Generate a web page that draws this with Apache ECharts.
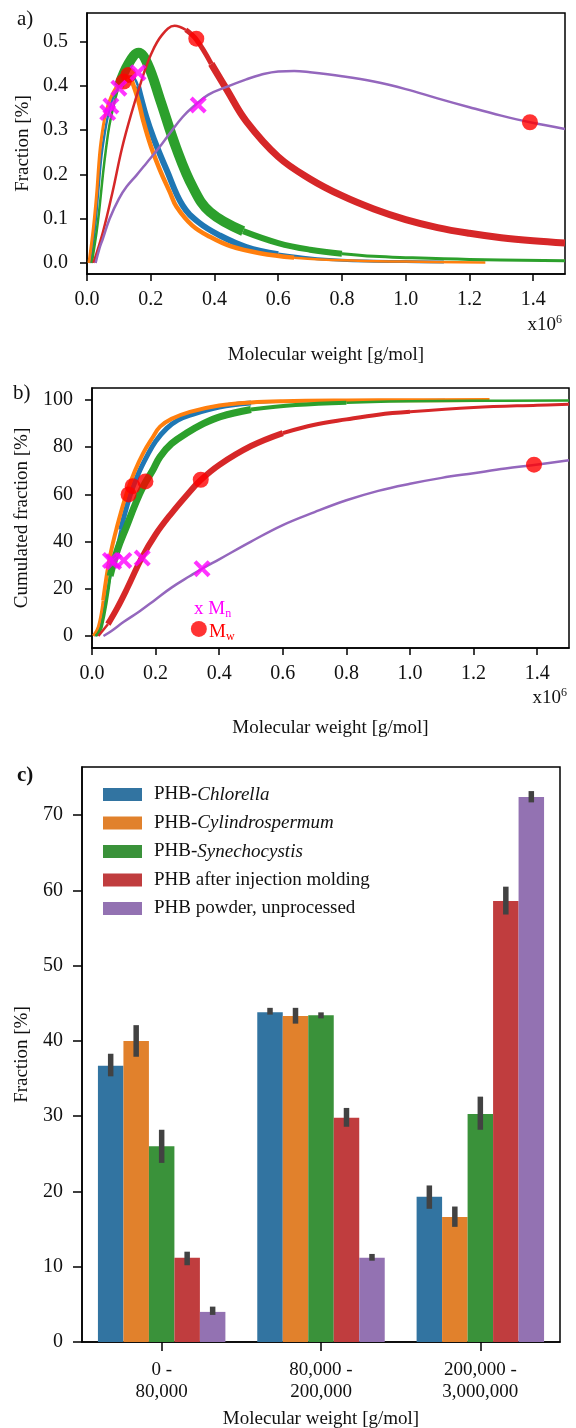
<!DOCTYPE html>
<html>
<head>
<meta charset="utf-8">
<script src="https://cdn.jsdelivr.net/npm/echarts@6/dist/echarts.min.js"></script>
<style>
html,body{margin:0;padding:0;background:#fff;}
#main{width:576px;height:1428px;}
</style>
</head>
<body>
<div id="main"></div>
<script>
// x values in 10^6 g/mol, panel a in fraction [%], panel b in cumulated fraction [%]
var xTicksAB = [0, 0.2, 0.4, 0.6, 0.8, 1.0, 1.2, 1.4];
var yTicksA = [0, 0.1, 0.2, 0.3, 0.4, 0.5];
var yTicksB = [0, 20, 40, 60, 80, 100];
var yTicksC = [0, 10, 20, 30, 40, 50, 60, 70];

var chlorellaA = [[0.01,0],[0.025,0.08],[0.035,0.16],[0.045,0.24],[0.055,0.29],[0.065,0.33],[0.08,0.37],[0.1,0.4],[0.12,0.418],[0.14,0.422],[0.16,0.4],[0.186,0.33],[0.21,0.28],[0.25,0.21],[0.3,0.13],[0.35,0.092],[0.417,0.062],[0.5,0.036],[0.6,0.02],[0.7,0.011],[0.8,0.006],[0.9,0.004],[1.0,0.003],[1.12,0.002]];
var cylindroA = [[0.006,0],[0.02,0.08],[0.03,0.155],[0.04,0.25],[0.05,0.305],[0.061,0.346],[0.075,0.375],[0.092,0.398],[0.11,0.415],[0.125,0.421],[0.14,0.413],[0.16,0.37],[0.176,0.323],[0.2,0.265],[0.229,0.21],[0.26,0.16],[0.281,0.127],[0.33,0.085],[0.386,0.059],[0.45,0.038],[0.543,0.022],[0.65,0.012],[0.8,0.006],[1.0,0.003],[1.25,0.001]];
var synechoA = [[0.015,0],[0.03,0.07],[0.04,0.13],[0.05,0.2],[0.06,0.26],[0.07,0.31],[0.085,0.36],[0.1,0.4],[0.13,0.45],[0.162,0.475],[0.19,0.45],[0.229,0.37],[0.28,0.26],[0.333,0.17],[0.386,0.115],[0.49,0.072],[0.6,0.045],[0.7,0.03],[0.8,0.021],[0.9,0.015],[1.0,0.012],[1.2,0.008],[1.5,0.005]];
var moldedA = [[0.02,0],[0.05,0.07],[0.08,0.16],[0.11,0.26],[0.14,0.34],[0.17,0.41],[0.2,0.47],[0.235,0.515],[0.275,0.536],[0.31,0.527],[0.343,0.505],[0.39,0.45],[0.44,0.39],[0.5,0.32],[0.6,0.24],[0.7,0.19],[0.8,0.152],[0.9,0.122],[1.0,0.098],[1.1,0.08],[1.2,0.067],[1.3,0.057],[1.4,0.05],[1.5,0.045]];
var powderA = [[0.027,0],[0.04,0.035],[0.05,0.055],[0.071,0.1],[0.1,0.145],[0.124,0.172],[0.155,0.198],[0.187,0.226],[0.229,0.263],[0.26,0.293],[0.3,0.33],[0.333,0.353],[0.38,0.38],[0.438,0.398],[0.5,0.415],[0.543,0.425],[0.6,0.433],[0.65,0.434],[0.7,0.431],[0.8,0.422],[0.9,0.41],[1.0,0.393],[1.1,0.372],[1.2,0.352],[1.3,0.333],[1.39,0.318],[1.5,0.303]];
var mnA = [[0.065,0.34],[0.075,0.355],[0.1,0.395],[0.16,0.43],[0.349,0.357]];
var mwA = [[0.115,0.41],[0.13,0.425],[0.343,0.507],[1.39,0.318]];

var chlorellaB = [[0.008,0],[0.025,4],[0.04,14],[0.067,31],[0.09,45],[0.119,59.2],[0.145,68.5],[0.172,76],[0.2,82.5],[0.235,88],[0.27,91.5],[0.308,93.6],[0.4,97],[0.5,98.7],[0.6,99.4],[0.8,99.8],[1.0,99.9],[1.11,100]];
var cylindroB = [[0.004,0],[0.02,4],[0.035,15],[0.057,33.9],[0.08,47],[0.109,60.6],[0.135,70],[0.161,77.5],[0.19,84],[0.214,88.7],[0.25,92],[0.308,95],[0.4,97.7],[0.5,99],[0.6,99.5],[0.8,99.8],[1.0,99.9],[1.25,100]];
var synechoB = [[0.012,0],[0.03,4],[0.057,25.4],[0.08,36.5],[0.109,46.5],[0.135,55.5],[0.161,63.4],[0.19,70],[0.214,76],[0.25,81.5],[0.298,86],[0.35,90],[0.404,93],[0.5,96],[0.64,97.9],[0.8,98.9],[1.0,99.5],[1.2,99.7],[1.5,99.8]];
var moldedB = [[0.02,0],[0.05,5],[0.08,12],[0.11,20],[0.156,33],[0.2,43],[0.25,52],[0.3,60],[0.341,66],[0.4,72.5],[0.5,80.5],[0.6,86],[0.7,89.5],[0.8,91.8],[0.9,93.8],[1.0,95],[1.2,96.8],[1.4,97.8],[1.5,98.2]];
var powderB = [[0.036,0],[0.06,2],[0.1,6],[0.15,10.5],[0.2,15.5],[0.25,20.5],[0.308,25.4],[0.346,28.5],[0.4,32.5],[0.5,40],[0.6,47],[0.7,52.5],[0.8,57.5],[0.9,61.5],[1.0,64.5],[1.1,67],[1.2,69],[1.3,71],[1.39,72.5],[1.5,74.5]];
var mnB = [[0.058,32],[0.068,31.5],[0.1,32],[0.158,33],[0.346,28.5]];
var mwB = [[0.115,60],[0.128,63.5],[0.168,65.5],[0.342,66.2],[1.39,72.6]];
var mwKeyB = [[0.336,3]];

var categories = ['0 -\n80,000', '80,000 -\n200,000', '200,000 -\n3,000,000'];
var sampleNames = ['PHB-Chlorella', 'PHB-Cylindrospermum', 'PHB-Synechocystis', 'PHB after injection molding', 'PHB powder, unprocessed'];
var chlorellaBar = [36.7, 43.8, 19.3];
var cylindroBar = [40.0, 43.3, 16.6];
var synechoBar = [26.0, 43.4, 30.3];
var moldedBar = [11.2, 29.8, 58.6];
var powderBar = [4.0, 11.2, 72.4];
var chlorellaErr = [[35.3, 38.3], [43.5, 44.4], [17.7, 20.8]];
var cylindroErr = [[37.9, 42.1], [42.3, 44.4], [15.3, 18.0]];
var synechoErr = [[23.8, 28.2], [43.0, 43.8], [28.2, 32.6]];
var moldedErr = [[10.2, 12.0], [28.6, 31.1], [56.8, 60.5]];
var powderErr = [[3.6, 4.7], [10.8, 11.7], [71.7, 73.2]];

var FONT = 'Liberation Serif';
var lineColors = ['#1f77b4', '#ff7f0e', '#2ca02c', '#d62728', '#9467bd'];
var barColors = ['#3274a1', '#e1812c', '#3a923a', '#c03d3e', '#9372b2'];
var crossPath = 'path://M1.7,0 L5,3.3 L8.3,0 L10,1.7 L6.7,5 L10,8.3 L8.3,10 L5,6.7 L1.7,10 L0,8.3 L3.3,5 L0,1.7 Z';

var myChart = echarts.init(document.getElementById('main'), null, {renderer: 'canvas'});

// split a curve into pieces of different width (the noisy band look)
function curve(data, color, grid, segs) {
	var out = [];
	var startIdx = 0;
	segs.forEach(function (s) {
		var endIdx = startIdx;
		while (endIdx < data.length - 1 && data[endIdx + 1][0] <= s[0]) endIdx++;
		if (endIdx <= startIdx) return;
		out.push({
			type: 'line', xAxisIndex: grid, yAxisIndex: grid, data: data.slice(startIdx, endIdx + 1),
			showSymbol: false, smooth: 0.4, silent: true,
			lineStyle: {color: color, width: s[1], cap: 'butt', join: 'round'}, z: 2
		});
		startIdx = endIdx;
	});
	return out;
}

function valueX(grid, nameGap) {
	return {
		type: 'value', gridIndex: grid, min: 0, max: 1.5,
		name: 'Molecular weight [g/mol]', nameLocation: 'middle', nameGap: nameGap,
		nameTextStyle: {color: '#111', fontSize: 19, fontFamily: FONT},
		axisLine: {show: true, onZero: false, lineStyle: {color: '#000', width: 1.5}},
		axisTick: {show: true, length: 7, customValues: xTicksAB, lineStyle: {color: '#000', width: 1.5}},
		axisLabel: {customValues: xTicksAB, margin: 16, color: '#111', fontSize: 20, fontFamily: FONT,
			formatter: function (v) { return v.toFixed(1); }},
		splitLine: {show: false}
	};
}

function valueY(grid, min, max, ticks, name, nameGap, fmt) {
	return {
		type: 'value', gridIndex: grid, min: min, max: max,
		name: name, nameLocation: 'middle', nameGap: nameGap,
		nameTextStyle: {color: '#111', fontSize: 19, fontFamily: FONT},
		axisLine: {show: true, onZero: false, lineStyle: {color: '#000', width: 1.5}},
		axisTick: {show: true, length: 7, customValues: ticks, lineStyle: {color: '#000', width: 1.5}},
		axisLabel: {customValues: ticks, margin: 19, color: '#111', fontSize: 20, fontFamily: FONT, formatter: fmt},
		splitLine: {show: false}
	};
}

var series = [];
[chlorellaA, cylindroA, synechoA, moldedA, powderA].forEach(function (d, i) {
	var segs = [
		[[0.16, 2.5], [0.6, 6], [2, 3]],
		[[0.14, 3], [0.65, 4.5], [2, 2.5]],
		[[0.1, 2.5], [0.49, 10], [0.8, 6], [2, 3]],
		[[0.31, 2.5], [0.39, 5], [2, 7]],
		[[2, 2.5]]
	][i];
	series = series.concat(curve(d, lineColors[i], 0, segs));
});
[chlorellaB, cylindroB, synechoB, moldedB, powderB].forEach(function (d, i) {
	var segs = [
		[[0.09, 2.5], [0.5, 5], [2, 2.5]],
		[[0.035, 3], [2, 4]],
		[[0.057, 3], [0.5, 7], [0.8, 4], [2, 2.5]],
		[[0.05, 2.5], [0.6, 6], [1.0, 4], [2, 3]],
		[[2, 2.5]]
	][i];
	series = series.concat(curve(d, lineColors[i], 1, segs));
});

function markers(grid, mn, mw) {
	return [
		{type: 'scatter', xAxisIndex: grid, yAxisIndex: grid, data: mw, symbol: 'circle', symbolSize: 16,
			itemStyle: {color: '#ff0000'}, z: 5, silent: true},
		{type: 'scatter', xAxisIndex: grid, yAxisIndex: grid, data: mn, symbol: crossPath, symbolSize: 17,
			itemStyle: {color: '#ff00ff'}, z: 6, silent: true}
	];
}
series = series.concat(markers(0, mnA, mwA));
series = series.concat(markers(1, mnB, mwB));
series.push({type: 'scatter', xAxisIndex: 1, yAxisIndex: 1, data: mwKeyB, symbol: 'circle', symbolSize: 16,
	itemStyle: {color: '#ff0000'}, z: 6, silent: true});

var barData = [chlorellaBar, cylindroBar, synechoBar, moldedBar, powderBar];
var errData = [chlorellaErr, cylindroErr, synechoErr, moldedErr, powderErr];
barData.forEach(function (d, i) {
	series.push({
		type: 'bar', name: sampleNames[i], xAxisIndex: 2, yAxisIndex: 2, data: d,
		barGap: '0%', barCategoryGap: '20%', itemStyle: {color: barColors[i]}, silent: true
	});
});
var errRows = [];
errData.forEach(function (e, k) {
	e.forEach(function (lh, i) { errRows.push([i, k, lh[0], lh[1]]); });
});
series.push({
	type: 'custom', xAxisIndex: 2, yAxisIndex: 2, data: errRows, z: 10, silent: true,
	encode: {x: 0, y: [2, 3]},
	renderItem: function (params, api) {
		var band = api.size([1, 0])[0];
		var off = (-0.4 + 0.08 + 0.16 * api.value(1)) * band;
		var p1 = api.coord([api.value(0), api.value(2)]);
		var p2 = api.coord([api.value(0), api.value(3)]);
		return {
			type: 'line',
			shape: {x1: p1[0] + off, y1: p1[1], x2: p2[0] + off, y2: p2[1]},
			style: {stroke: '#424242', lineWidth: 5.5, lineCap: 'butt'}
		};
	}
});

function richLabel(t, x, y, color, sub, align) {
	return {
		type: 'text', x: x, y: y, silent: true,
		style: {
			text: t, fill: color, align: align || 'left', verticalAlign: 'middle', fontFamily: FONT,
			rich: {
				a: {fontSize: 19, fontFamily: FONT, fill: color, lineHeight: 22},
				s: {fontSize: 12, fontFamily: FONT, fill: color, verticalAlign: sub ? 'bottom' : 'top', lineHeight: 22,
					padding: sub ? [8, 0, 0, 0] : [0, 0, 8, 0]}
			}
		}
	};
}

var option = {
	animation: false,
	backgroundColor: '#fff',
	textStyle: {fontFamily: FONT},
	grid: [
		{left: 87, top: 13, width: 478, height: 261, show: true, borderColor: '#000', borderWidth: 1.5, outerBoundsMode: 'none'},
		{left: 92, top: 388, width: 477, height: 260, show: true, borderColor: '#000', borderWidth: 1.5, outerBoundsMode: 'none'},
		{left: 82, top: 767, width: 478, height: 575, show: true, borderColor: '#000', borderWidth: 1.5, outerBoundsMode: 'none'}
	],
	legend: {
		data: sampleNames, orient: 'vertical', left: 98, top: 780, itemWidth: 39, itemHeight: 13, itemGap: 9.5,
		icon: 'rect', selectedMode: false,
		textStyle: {fontSize: 19, color: '#111', fontFamily: FONT,
			rich: {
				g: {fontSize: 19, fontFamily: FONT, padding: [0, 0, 0, 7]},
				n: {fontSize: 19, fontFamily: FONT},
				i: {fontSize: 19, fontFamily: FONT, fontStyle: 'italic'}
			}},
		formatter: function (name) {
			if (name.indexOf('PHB-') === 0) return '{g|}{n|PHB-}{i|' + name.slice(4) + '}';
			return '{g|}{n|' + name + '}';
		}
	},
	xAxis: [
		valueX(0, 72),
		valueX(1, 71),
		{
			type: 'category', gridIndex: 2, data: categories,
			name: 'Molecular weight [g/mol]', nameLocation: 'middle', nameGap: 68,
			nameTextStyle: {color: '#111', fontSize: 19, fontFamily: FONT},
			axisLine: {show: true, lineStyle: {color: '#000', width: 1.5}},
			axisTick: {show: true, alignWithLabel: true, length: 9, lineStyle: {color: '#000', width: 1.5}},
			axisLabel: {margin: 17, color: '#111', fontSize: 19, lineHeight: 22, fontFamily: FONT, interval: 0},
			splitLine: {show: false}
		}
	],
	yAxis: [
		valueY(0, -0.025, 0.565, yTicksA, 'Fraction [%]', 54, function (v) { return v.toFixed(1); }),
		valueY(1, -5.1, 105.1, yTicksB, 'Cumulated fraction [%]', 60, function (v) { return String(v); }),
		(function () {
			var ax = valueY(2, 0, 76.4, yTicksC, 'Fraction [%]', 50, function (v) { return String(v); });
			ax.axisTick.length = 9;
			return ax;
		})()
	],
	graphic: [
		{type: 'text', x: 17, y: 19, silent: true, style: {text: 'a)', fontSize: 21, fontFamily: FONT, fill: '#111', verticalAlign: 'middle'}},
		{type: 'text', x: 13, y: 393, silent: true, style: {text: 'b)', fontSize: 21, fontFamily: FONT, fill: '#111', verticalAlign: 'middle'}},
		{type: 'text', x: 17, y: 776, silent: true, style: {text: 'c)', fontSize: 21, fontFamily: FONT, fill: '#111', verticalAlign: 'middle', fontWeight: 'bold'}},
		richLabel('{a|x10}{s|6}', 562, 325, '#111', false, 'right'),
		richLabel('{a|x10}{s|6}', 567, 698, '#111', false, 'right'),
		richLabel('{a|x M}{s|n}', 194, 609, '#ff00ff', true),
		richLabel('{a|M}{s|w}', 209, 632, '#ff0000', true)
	],
	series: series
};
myChart.setOption(option);
</script>
</body>
</html>
